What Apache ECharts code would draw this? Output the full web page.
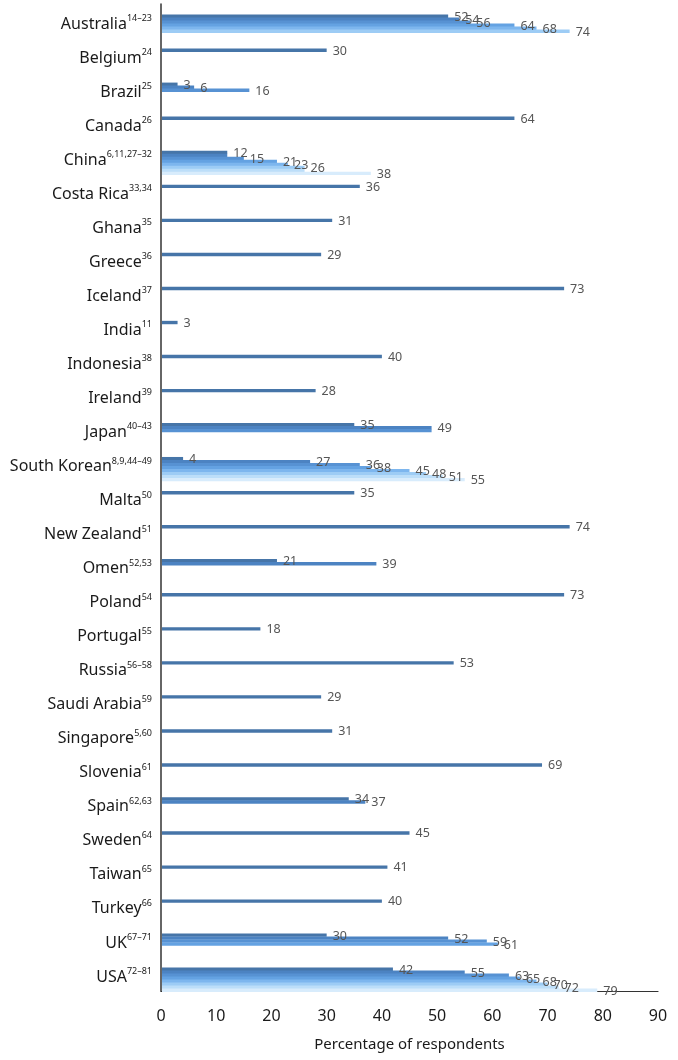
<!DOCTYPE html>
<html>
<head>
<meta charset="utf-8">
<script src="https://cdn.jsdelivr.net/npm/echarts@6/dist/echarts.min.js"></script>
<style>
html,body{margin:0;padding:0;background:#fff;}
#chart{width:678px;height:1060px;}
</style>
</head>
<body>
<div id="chart"></div>
<script>
const countries = ['Australia','Belgium','Brazil','Canada','China','Costa Rica','Ghana','Greece','Iceland','India','Indonesia','Ireland','Japan','South Korean','Malta','New Zealand','Omen','Poland','Portugal','Russia','Saudi Arabia','Singapore','Slovenia','Spain','Sweden','Taiwan','Turkey','UK','USA'];
const refs = ['14–23','24','25','26','6,11,27–32','33,34','35','36','37','11','38','39','40–43','8,9,44–49','50','51','52,53','54','55','56–58','59','5,60','61','62,63','64','65','66','67–71','72–81'];
const studyValues = [
  [52,54,56,64,68,74],
  [30],
  [3,6,16],
  [64],
  [12,12,15,21,23,26,26,38],
  [36],
  [31],
  [29],
  [73],
  [3],
  [40],
  [28],
  [35,49,49],
  [4,27,36,38,45,48,51,55],
  [35],
  [74],
  [21,39],
  [73],
  [18],
  [53],
  [29],
  [31],
  [69],
  [34,37],
  [45],
  [41],
  [40],
  [30,52,59,61],
  [42,55,63,65,68,70,72,79]
];
const xTicks = [0,10,20,30,40,50,60,70,80,90];

const slotColors = ['#4675a8','#4c83c2','#5792d3','#64a2e2','#7db6ee','#9dccf5','#bcdef9','#d8ecfc'];
const SLOT = 3;

const data = [];
studyValues.forEach((vals, ci) => {
  vals.forEach((v, si) => {
    const showLabel = (si === 0 || vals[si - 1] !== v) ? 1 : 0;
    data.push([v, ci, si, showLabel]);
  });
});

function renderItem(params, api) {
  const v = api.value(0), cat = api.value(1), slot = api.value(2), showLab = api.value(3);
  const p0 = api.coord([0, cat]);
  const p1 = api.coord([v, cat]);
  const top = p0[1] - 6.5 + slot * SLOT;
  const children = [{
    type: 'rect',
    shape: { x: p0[0] + 1, y: top, width: p1[0] - p0[0] - 1, height: SLOT + 0.4 },
    style: { fill: slotColors[slot] }
  }];
  if (showLab) {
    children.push({
      type: 'text', z2: 10,
      style: { x: p1[0] + 6, y: top + SLOT / 2 + 1, text: String(v), fill: '#555555',
               font: '12.5px "Noto Sans"', align: 'left', verticalAlign: 'middle' }
    });
  }
  return { type: 'group', children };
}

const chart = echarts.init(document.getElementById('chart'));
chart.setOption({
  animation: false,
  grid: { left: 161, right: 20, top: 4, bottom: 69, containLabel: false },
  xAxis: {
    type: 'value', min: 0, max: 90, interval: 10,
    axisLine: { show: true, lineStyle: { color: '#333', width: 1.2 } },
    axisTick: { show: false },
    splitLine: { show: false },
    axisLabel: { color: '#1a1a1a', fontSize: 16, fontFamily: 'Noto Sans', margin: 17,
                 formatter: v => xTicks.includes(v) ? String(v) : '' },
    name: 'Percentage of respondents', nameLocation: 'middle', nameGap: 46,
    nameTextStyle: { color: '#1a1a1a', fontSize: 15, fontFamily: 'Noto Sans' }
  },
  yAxis: {
    type: 'category', inverse: true, data: countries,
    axisLine: { show: true, lineStyle: { color: '#333', width: 1.5 } },
    axisTick: { show: false },
    axisLabel: {
      margin: 9, color: '#1a1a1a', padding: [6, 0, 0, 0],
      formatter: (v, i) => '{n|' + v + '}{s|' + refs[i] + '}',
      rich: {
        n: { fontSize: 16, fontFamily: 'Noto Sans', color: '#1a1a1a', lineHeight: 20 },
        s: { fontSize: 9, fontFamily: 'Noto Sans', color: '#1a1a1a', verticalAlign: 'top', lineHeight: 11 }
      }
    }
  },
  series: [{
    type: 'custom',
    renderItem: renderItem,
    encode: { x: 0, y: 1 },
    data: data
  }]
});
</script>
</body>
</html>
